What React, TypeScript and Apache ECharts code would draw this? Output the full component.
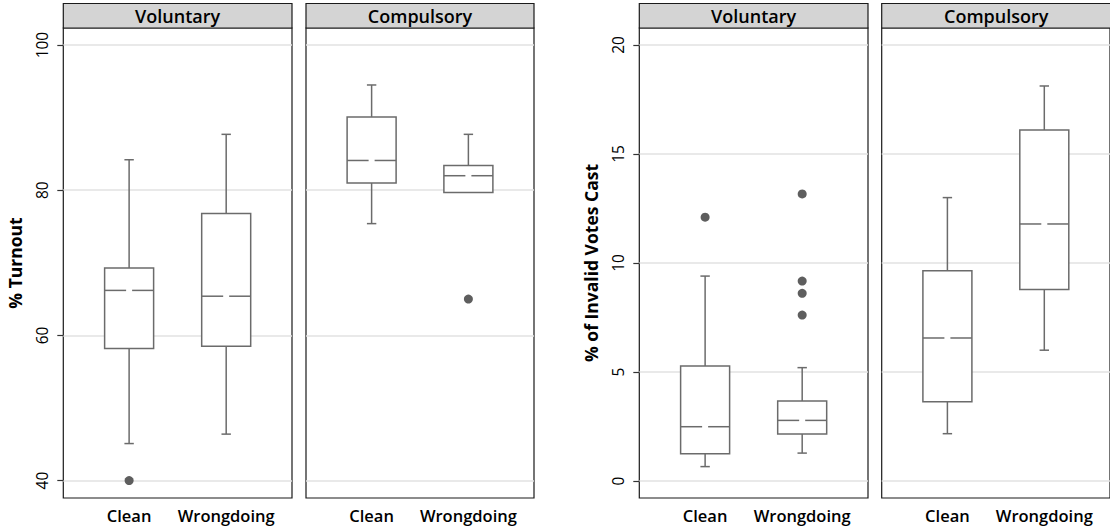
import React, { useEffect, useRef } from "react";
import * as echarts from "echarts";

const categories = ["Clean", "Wrongdoing"];
const regimes = ["Voluntary", "Compulsory"];

// each box: [lowerWhisker, q1, median, q3, upperWhisker]
const turnoutVoluntary = [
  [45.1, 58.2, 66.2, 69.3, 84.2],
  [46.4, 58.5, 65.4, 76.8, 87.7],
];
const turnoutCompulsory = [
  [75.4, 81.0, 84.1, 90.1, 94.5],
  [79.7, 79.7, 82.0, 83.4, 87.7],
];
const turnoutOutliersVoluntary = [[1, 40.0]];
const turnoutOutliersCompulsory = [[2, 65.0]];

const invalidVoluntary = [
  [0.66, 1.25, 2.49, 5.28, 9.4],
  [1.28, 2.16, 2.78, 3.67, 5.2],
];
const invalidCompulsory = [
  [2.17, 3.64, 6.56, 9.65, 13.0],
  [6.0, 8.79, 11.79, 16.1, 18.12],
];
const invalidOutliersVoluntary = [[1, 12.1], [2, 13.17], [2, 9.17], [2, 8.61], [2, 7.61]];
const invalidOutliersCompulsory: number[][] = [];

const turnoutTicks = [40, 60, 80, 100];
const invalidTicks = [0, 5, 10, 15, 20];

const FONT = "Open Sans";

export default function App() {
  const ref = useRef<HTMLDivElement>(null);
  useEffect(() => {
    document.body.style.margin = "0";
    const chart = echarts.init(ref.current!, null, { renderer: "svg" });

    const gridLefts = [63.3, 306, 639.3, 881.7];
    const gridWidths = [228.7, 228, 228.7, 229];
    const top = 28;
    const height = 470;
    const boxes = [turnoutVoluntary, turnoutCompulsory, invalidVoluntary, invalidCompulsory];
    const outliers = [turnoutOutliersVoluntary, turnoutOutliersCompulsory, invalidOutliersVoluntary, invalidOutliersCompulsory];
    const ranges = [[37.6, 102.35], [37.6, 102.35], [-0.78, 20.78], [-0.78, 20.78]];
    const ticks = [turnoutTicks, turnoutTicks, invalidTicks, invalidTicks];
    const names = ["% Turnout", "", "% of Invalid Votes Cast", ""];

    const stroke = "#6b6b6b";
    const lw = 1.5;

    const renderBox = (params: any, api: any) => {
      const x = api.value(0);
      const lo = api.coord([x, api.value(1)]);
      const q1 = api.coord([x, api.value(2)]);
      const med = api.coord([x, api.value(3)]);
      const q3 = api.coord([x, api.value(4)]);
      const hi = api.coord([x, api.value(5)]);
      const cx = lo[0];
      const hw = 24.5;
      const cap = 4.7;
      const gap = 3;
      const st = { stroke, lineWidth: lw, fill: "none" };
      const children: any[] = [];
      if (Math.abs(hi[1] - q3[1]) > 0.5) {
        children.push({ type: "line", shape: { x1: cx, y1: hi[1], x2: cx, y2: q3[1] }, style: st });
        children.push({ type: "line", shape: { x1: cx - cap, y1: hi[1], x2: cx + cap, y2: hi[1] }, style: st });
      }
      if (Math.abs(lo[1] - q1[1]) > 0.5) {
        children.push({ type: "line", shape: { x1: cx, y1: lo[1], x2: cx, y2: q1[1] }, style: st });
        children.push({ type: "line", shape: { x1: cx - cap, y1: lo[1], x2: cx + cap, y2: lo[1] }, style: st });
      }
      children.push({
        type: "rect",
        shape: { x: cx - hw, y: q3[1], width: 2 * hw, height: q1[1] - q3[1] },
        style: { fill: "#fff", stroke, lineWidth: lw },
      });
      children.push({ type: "line", shape: { x1: cx - hw, y1: med[1], x2: cx - gap, y2: med[1] }, style: st });
      children.push({ type: "line", shape: { x1: cx + gap, y1: med[1], x2: cx + hw, y2: med[1] }, style: st });
      return { type: "group", children };
    };

    const grid = gridLefts.map((l, i) => ({
      left: l,
      top,
      width: gridWidths[i],
      height,
      show: true,
      backgroundColor: "#fff",
      borderColor: "#1a1a1a",
      borderWidth: 1.2,
    }));

    const xAxis = gridLefts.map((_, i) => ({
      gridIndex: i,
      type: "value",
      min: 0.322,
      max: 2.678,
      axisLine: { show: false },
      axisTick: { show: false },
      splitLine: { show: false },
      axisLabel: {
        customValues: [1, 2],
        formatter: (v: number) => categories[Math.round(v) - 1],
        margin: 9,
        fontSize: 16.5,
        fontWeight: 600,
        color: "#000",
        fontFamily: FONT,
      },
    }));

    const yAxis = gridLefts.map((_, i) => ({
      gridIndex: i,
      type: "value",
      min: ranges[i][0],
      max: ranges[i][1],
      name: names[i],
      nameLocation: "middle",
      nameGap: 39,
      nameTextStyle: { fontSize: 17.5, fontWeight: "bold", color: "#000", fontFamily: FONT },
      axisLine: { show: false },
      axisTick: {
        show: i % 2 === 0,
        customValues: ticks[i],
        length: 6,
        lineStyle: { color: "#333", width: 1.2 },
      },
      axisLabel: {
        show: i % 2 === 0,
        customValues: ticks[i],
        rotate: 90,
        margin: 13,
        fontSize: 15.5,
        color: "#000",
        fontFamily: FONT,
      },
      splitLine: { show: true, lineStyle: { color: "#e2e2e2", width: 1.5 } },
    }));

    const series: any[] = [];
    boxes.forEach((b, i) => {
      series.push({
        type: "custom",
        xAxisIndex: i,
        yAxisIndex: i,
        renderItem: renderBox,
        encode: { x: 0, y: [1, 2, 3, 4, 5] },
        data: b.map((v, k) => [k + 1, ...v]),
        z: 3,
      });
      series.push({
        type: "scatter",
        xAxisIndex: i,
        yAxisIndex: i,
        symbolSize: 9,
        itemStyle: { color: "#5e5e5e", opacity: 1 },
        data: outliers[i],
        z: 4,
      });
    });

    const graphic: any[] = [];
    gridLefts.forEach((l, i) => {
      graphic.push({
        type: "rect",
        shape: { x: l, y: 3.5, width: gridWidths[i], height: 24.5 },
        style: { fill: "#d4d4d4", stroke: "#1a1a1a", lineWidth: 1.2 },
        z: 10,
      });
      graphic.push({
        type: "text",
        x: l + gridWidths[i] / 2,
        y: 15.5,
        style: {
          text: regimes[i % 2],
          fontSize: 18,
          fontWeight: 600,
          fontFamily: FONT,
          fill: "#000",
          textAlign: "center",
          textVerticalAlign: "middle",
        },
        z: 11,
      });
    });

    chart.setOption({
      animation: false,
      textStyle: { fontFamily: FONT },
      grid,
      xAxis,
      yAxis,
      series,
      graphic,
    });
    return () => chart.dispose();
  }, []);
  return <div ref={ref} style={{ width: 1110, height: 529 }} />;
}
